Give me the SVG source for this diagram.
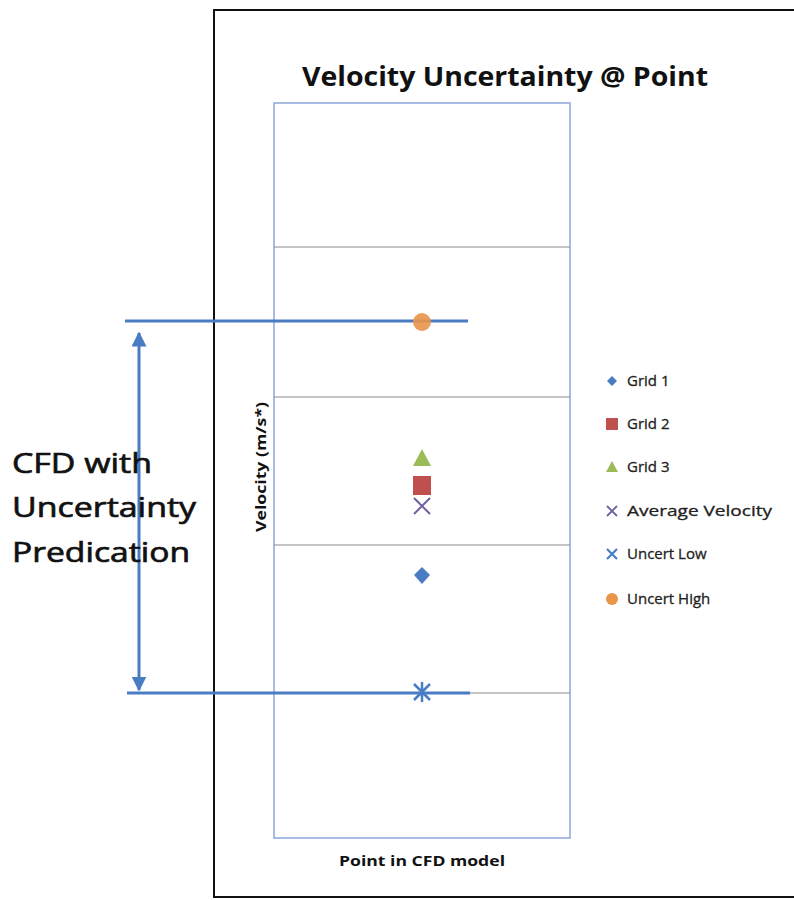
<svg xmlns="http://www.w3.org/2000/svg" width="794" height="900" viewBox="0 0 794 900">
<style>
.t{font-family:"Open Sans","Liberation Sans",sans-serif;fill:#111;}
.b{font-weight:bold;}
.grid{stroke:#8a8a8a;stroke-width:1;}
.conn{stroke:#4a7cc4;stroke-width:3;fill:none;}
.leg{font-family:"Open Sans","Liberation Sans",sans-serif;font-size:15px;fill:#222;stroke:#222;stroke-width:0.3;}
.lbl{stroke:#111;stroke-width:0.7;}
</style>
<defs>
<marker id="ah" viewBox="0 0 10 10" refX="9" refY="5" markerWidth="5" markerHeight="5" orient="auto-start-reverse">
<path d="M0,0 L10,5 L0,10 z" fill="#4a7cc4"/>
</marker>
</defs>
<rect width="794" height="900" fill="#fff"/>
<g id="frame">
<rect x="214" y="10" width="600" height="887" fill="none" stroke="#111" stroke-width="2"/>
</g>
<g id="title">
<text class="t b" x="505" y="86" font-size="26" text-anchor="middle" textLength="406" lengthAdjust="spacingAndGlyphs">Velocity Uncertainty @ Point</text>
</g>
<g id="plot">
<rect x="274" y="103" width="296" height="735" fill="none" stroke="#8aa6d6" stroke-width="1.5"/>
<line class="grid" x1="274" y1="247" x2="570" y2="247"/>
<line class="grid" x1="274" y1="397" x2="570" y2="397"/>
<line class="grid" x1="274" y1="545" x2="570" y2="545"/>
<line class="grid" x1="274" y1="693" x2="570" y2="693"/>
<text class="t b" x="0" y="0" font-size="14" text-anchor="middle" textLength="130" lengthAdjust="spacingAndGlyphs" transform="translate(266,467) rotate(-90)">Velocity (m/s*)</text>
<text class="t b" x="422" y="866" font-size="15" text-anchor="middle" textLength="166" lengthAdjust="spacingAndGlyphs">Point in CFD model</text>
</g>
<g id="connectors">
<line class="conn" x1="125" y1="321" x2="468" y2="321"/>
<line class="conn" x1="127" y1="693" x2="470" y2="693"/>
<line class="conn" x1="139" y1="333" x2="139" y2="690" marker-start="url(#ah)" marker-end="url(#ah)"/>
</g>
<g id="markers">
<circle cx="422" cy="322" r="9" fill="#e8954a" opacity="0.9"/>
<path d="M422,449 L431,466 L413,466 Z" fill="#9bbb59"/>
<rect x="413" y="476" width="18" height="19" fill="#c0504d"/>
<path d="M414,498 L430,514 M430,498 L414,514" stroke="#7060a0" stroke-width="2"/>
<path d="M422,567 L430,575 L422,584 L414,575 Z" fill="#4a7cc4"/>
<path d="M414,684 L430,700 M430,684 L414,700 M422,682 L422,702" stroke="#4a7cc4" stroke-width="2.5"/>
</g>
<g id="legend">
<path d="M612,376 L617,381 L612,386 L607,381 Z" fill="#4a7cc4"/>
<text class="leg" x="627" y="386">Grid 1</text>
<rect x="606" y="418" width="12" height="12" fill="#c0504d"/>
<text class="leg" x="627" y="429">Grid 2</text>
<path d="M612,461 L618,472 L606,472 Z" fill="#9bbb59"/>
<text class="leg" x="627" y="472">Grid 3</text>
<path d="M607,506 L617,516 M617,506 L607,516" stroke="#7060a0" stroke-width="1.8"/>
<text class="leg" x="627" y="516" textLength="145" lengthAdjust="spacingAndGlyphs">Average Velocity</text>
<path d="M607,549 L617,559 M617,549 L607,559" stroke="#4a7cc4" stroke-width="2.2"/>
<text class="leg" x="627" y="559">Uncert Low</text>
<circle cx="612" cy="599" r="6" fill="#e8954a"/>
<text class="leg" x="627" y="604">Uncert High</text>
</g>
<g id="label">
<text class="t lbl" x="12" y="473" font-size="28" textLength="140" lengthAdjust="spacingAndGlyphs">CFD with</text>
<text class="t lbl" x="12" y="517" font-size="28" textLength="184" lengthAdjust="spacingAndGlyphs">Uncertainty</text>
<text class="t lbl" x="12" y="562" font-size="28" textLength="178" lengthAdjust="spacingAndGlyphs">Predication</text>
</g>
</svg>
